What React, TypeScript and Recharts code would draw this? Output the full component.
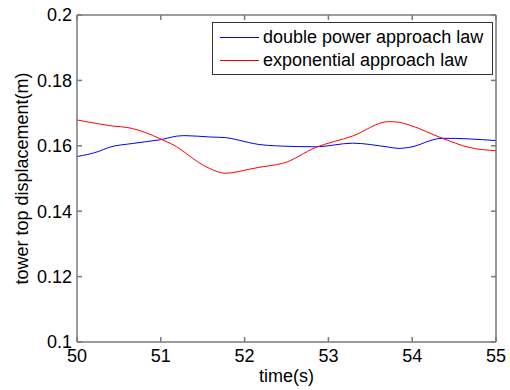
import React from 'react';
import { LineChart, Line, XAxis, YAxis } from 'recharts';

const times = [50, 50.26, 50.38, 50.66, 50.98, 51.26, 51.3, 51.58, 51.77, 52.05, 52.17, 52.37, 52.45, 52.85, 53.29, 53.72, 53.84, 53.96, 54.36, 54.68, 55];
const doublePower = [0.1567, 0.1583, 0.1595, 0.1607, 0.1618, 0.1631, 0.1631, 0.1627, 0.1625, 0.161, 0.1604, 0.16, 0.1599, 0.1597, 0.1608, 0.1596, 0.1592, 0.1595, 0.1623, 0.1621, 0.1616];
const exponential = [0.1679, 0.1667, 0.1662, 0.1653, 0.1623, 0.1585, 0.1577, 0.1531, 0.1516, 0.1528, 0.1534, 0.1542, 0.1546, 0.1595, 0.163, 0.1674, 0.1672, 0.1664, 0.1623, 0.1595, 0.1585];

const xTicks = [50, 51, 52, 53, 54, 55];
const yTicks = [0.1, 0.12, 0.14, 0.16, 0.18, 0.2];
const yTickLabels = ['0.1', '0.12', '0.14', '0.16', '0.18', '0.2'];
const seriesNames = ['double power approach law', 'exponential approach law'];
const xLabel = 'time(s)';
const yLabel = 'tower top displacement(m)';

const data = times.map((t, i) => ({ t, a: doublePower[i], b: exponential[i] }));

const FONT = 'Arial, "Liberation Sans", Helvetica, sans-serif';
const AXIS = '#7a7a7a';

export default function App() {
  return (
    <div style={{ position: 'absolute', left: 0, top: 0, width: 510, height: 390, background: '#fff', fontFamily: FONT }}>
      <LineChart width={510} height={390} data={data} margin={{ top: 14, right: 13, bottom: 0, left: 0 }}>
        <XAxis
          dataKey="t"
          type="number"
          domain={[50, 55]}
          ticks={xTicks}
          allowDataOverflow
          height={48}
          stroke={AXIS}
          strokeWidth={1.5}
          tickLine={{ stroke: AXIS, strokeWidth: 1.5 }}
          tickSize={-5}
          tickMargin={12}
          tick={{ fill: '#000', fontSize: 18, fontFamily: FONT }}
          label={{ value: xLabel, position: 'insideBottom', offset: 8, fill: '#000', fontSize: 18, fontFamily: FONT }}
        />
        <XAxis
          xAxisId="top"
          orientation="top"
          dataKey="t"
          type="number"
          domain={[50, 55]}
          ticks={xTicks}
          allowDataOverflow
          height={1}
          stroke={AXIS}
          strokeWidth={1.5}
          tickLine={{ stroke: AXIS, strokeWidth: 1.5 }}
          tickSize={-5}
          tick={{ fill: 'none', fontSize: 1 }}
        />
        <YAxis
          type="number"
          domain={[0.1, 0.2]}
          ticks={yTicks}
          allowDataOverflow
          width={77}
          stroke={AXIS}
          strokeWidth={1.5}
          tickLine={{ stroke: AXIS, strokeWidth: 1.5 }}
          tickSize={-5}
          tickMargin={10}
          tickFormatter={(v: number) => yTickLabels[yTicks.findIndex((y) => Math.abs(y - v) < 1e-9)] ?? String(v)}
          tick={{ fill: '#000', fontSize: 18, fontFamily: FONT }}
          label={{
            content: (props: any) => {
              const vb = props.viewBox || {};
              const cx = 22;
              const cy = (vb.y ?? 15) + (vb.height ?? 327) / 2;
              return (
                <text x={cx} y={cy} transform={`rotate(-90, ${cx}, ${cy})`} textAnchor="middle" dominantBaseline="central" fill="#000" fontSize={18} fontFamily={FONT}>
                  {yLabel}
                </text>
              );
            },
          }}
        />
        <YAxis
          yAxisId="right"
          orientation="right"
          type="number"
          domain={[0.1, 0.2]}
          ticks={yTicks}
          allowDataOverflow
          width={1}
          stroke={AXIS}
          strokeWidth={1.5}
          tickLine={{ stroke: AXIS, strokeWidth: 1.5 }}
          tickSize={-5}
          tick={{ fill: 'none', fontSize: 1 }}
        />
        <Line dataKey="a" name={seriesNames[0]} type="monotone" stroke="#0000ff" strokeWidth={1} dot={false} isAnimationActive={false} />
        <Line dataKey="b" name={seriesNames[1]} type="monotone" stroke="#ff0000" strokeWidth={1} dot={false} isAnimationActive={false} />
      </LineChart>
      <div
        style={{
          position: 'absolute',
          left: 212,
          top: 22,
          width: 279,
          height: 51,
          border: '1px solid #333',
          background: '#fff',
          fontSize: 18,
          fontFamily: FONT,
          color: '#000',
        }}
      >
        {seriesNames.map((n, i) => (
          <div key={n} style={{ position: 'absolute', left: 0, top: 2 + i * 23.5, height: 24, display: 'flex', alignItems: 'center', whiteSpace: 'nowrap' }}>
            <span style={{ display: 'inline-block', width: 39, height: 0, borderTop: `1px solid ${i === 0 ? '#0000ff' : '#ff0000'}`, marginLeft: 7, marginRight: 4 }} />
            <span>{n}</span>
          </div>
        ))}
      </div>
    </div>
  );
}
